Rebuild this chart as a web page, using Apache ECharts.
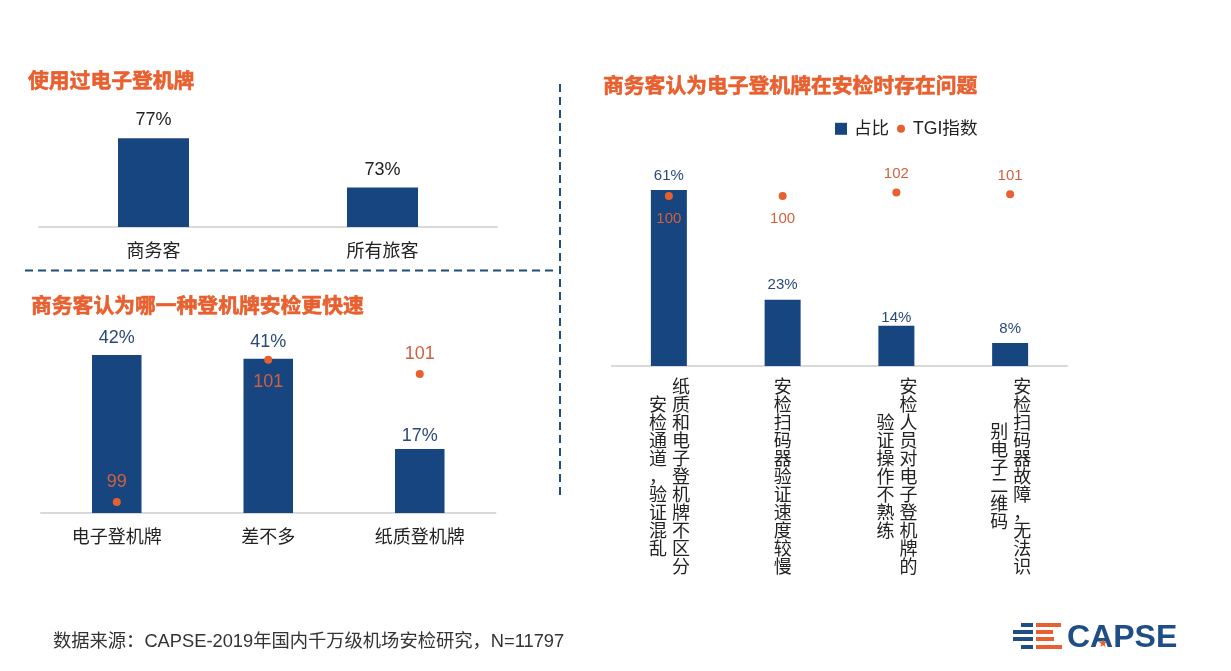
<!DOCTYPE html>
<html>
<head>
<meta charset="utf-8">
<title>CAPSE</title>
<script src="https://cdn.jsdelivr.net/npm/echarts@6/dist/echarts.min.js"></script>
<style>
html,body{margin:0;padding:0;background:#fff;}
#main{width:1231px;height:671px;}
</style>
</head>
<body>
<div id="main"></div>
<script>
'use strict';

var usedCategories = ['商务客', '所有旅客'];
var usedValues = [77, 73];

var speedCategories = ['电子登机牌', '差不多', '纸质登机牌'];
var speedValues = [42, 41, 17];
var speedLabelGap = [8, 8, 4];
var speedTgi = [99, 101, 100.8];
var speedTgiSide = ['top', 'bottom', 'top'];

// 每个标签是竖排的，第一列在右
var issueCategories = ['纸质和电子登机牌不区分安检通道，验证混乱', '安检扫码器验证速度较慢', '安检人员对电子登机牌的验证操作不熟练', '安检扫码器故障，无法识别电子二维码'];
var issueColumns = [
    ['纸质和电子登机牌不区分', '安检通道，验证混乱'],
    ['安检扫码器验证速度较慢'],
    ['安检人员对电子登机牌的', '验证操作不熟练'],
    ['安检扫码器故障，无法识', '别电子二维码']
];
var issueValues = [61, 23, 14, 8];
var issueLabelGap = [7, 7, 0, 7];
var issueTgi = [100, 100, 102, 101];
var issueTgiSide = ['bottom', 'bottom', 'top', 'top'];

var titles = ['使用过电子登机牌', '商务客认为哪一种登机牌安检更快速', '商务客认为电子登机牌在安检时存在问题'];
var sourceNote = '数据来源：CAPSE-2019年国内千万级机场安检研究，N=11797';

var FONT = '"Liberation Sans","Noto Sans CJK SC",sans-serif';
var BLUE = '#17457f';
var ORANGE = '#e8602f';
var TGI_TEXT = '#d2603f';
var VALUE_TEXT = '#2b4a78';
var DASH = '#1f4e79';

function titleItem(text, left, top) {
    return {
        text: text, left: left, top: top, padding: 0,
        textStyle: {fontFamily: FONT, fontSize: 20.8, fontWeight: 'bold', color: ORANGE, textBorderColor: ORANGE, textBorderWidth: 0.6}
    };
}

function xAxisItem(index, data, showLabel) {
    return {
        type: 'category', gridIndex: index, data: data,
        axisTick: {show: false},
        axisLine: {lineStyle: {color: '#d9d9d9', width: 2}},
        axisLabel: {show: showLabel, fontFamily: FONT, fontSize: 18, color: '#222', margin: 16, interval: 0}
    };
}

function yAxisItem(index, min, max) {
    return {type: 'value', gridIndex: index, min: min, max: max, show: false, splitLine: {show: false}};
}

function barItem(name, index, yIndex, values, gaps, width, fontSize, color) {
    return {
        name: name, type: 'bar', xAxisIndex: index, yAxisIndex: yIndex, barWidth: width,
        itemStyle: {color: BLUE},
        data: values.map(function(v, i) {
            return {
                value: v,
                label: {show: true, position: 'top', distance: gaps[i], fontFamily: FONT, fontSize: fontSize, color: color, formatter: '{c}%'}
            };
        })
    };
}

function tgiItem(name, index, yIndex, values, sides, fontSize, gapTop, gapBottom) {
    return {
        name: name, type: 'scatter', xAxisIndex: index, yAxisIndex: yIndex, symbol: 'circle', symbolSize: 8, z: 5,
        itemStyle: {color: ORANGE, opacity: 1},
        data: values.map(function(v, i) {
            return {
                value: v,
                label: {
                    show: true, position: sides[i], distance: sides[i] === 'top' ? gapTop : gapBottom,
                    fontFamily: FONT, fontSize: fontSize, color: TGI_TEXT,
                    formatter: function(p) { return Math.round(p.value); }
                }
            };
        })
    };
}

function renderIssueLabel(params, api) {
    var i = api.value(0);
    var base = api.coord([i, 0]);
    var cols = issueColumns[i];
    var children = cols.map(function(col, c) {
        var dx = cols.length > 1 ? (c === 0 ? 12 : -11) : 0;
        return {
            type: 'text', x: base[0] + dx, y: base[1] + 112,
            style: {
                text: col.split('').join('\n'), align: 'center', verticalAlign: 'middle',
                fontFamily: FONT, fontSize: 18, lineHeight: 18, fill: '#222'
            }
        };
    });
    return {type: 'group', children: children};
}

function logoGraphics() {
    var rows = [
        [1021, 1033, 1036, 1061, 625], [1013, 1033, 1036, 1053, 632],
        [1013, 1033, 1036, 1054, 639], [1021, 1033, 1036, 1062, 647]
    ];
    var items = [];
    rows.forEach(function(r) {
        items.push({type: 'rect', shape: {x: r[0], y: r[4] - 2, width: r[1] - r[0], height: 4}, style: {fill: '#1f4e86'}});
        items.push({type: 'rect', shape: {x: r[2], y: r[4] - 2, width: r[3] - r[2], height: 4}, style: {fill: ORANGE}});
    });
    items.push({type: 'text', x: 1067, y: 638, style: {text: 'CAPSE', fontFamily: FONT, fontSize: 32, fontWeight: 'bold', fill: '#1f4e86', verticalAlign: 'middle'}});
    items.push({type: 'polygon', shape: {points: [[1103, 639], [1104, 642], [1107, 642], [1104.7, 644], [1105.6, 647], [1103, 645.2], [1100.4, 647], [1101.3, 644], [1099, 642], [1102, 642]]}, style: {fill: ORANGE}});
    return items;
}

function dashLine(x1, y1, x2, y2) {
    return {type: 'line', shape: {x1: x1, y1: y1, x2: x2, y2: y2}, style: {stroke: DASH, lineWidth: 2, lineDash: [8, 5]}};
}

var chart = echarts.init(document.getElementById('main'));
chart.setOption({
    backgroundColor: '#fff',
    animation: false,
    title: [
        titleItem(titles[0], 28, 72),
        titleItem(titles[1], 31, 297),
        titleItem(titles[2], 603, 77),
        {text: sourceNote, left: 53, top: 633, padding: 0, textStyle: {fontFamily: FONT, fontSize: 18.3, fontWeight: 'normal', color: '#333'}}
    ],
    legend: [
        {data: [{name: '占比', icon: 'rect'}], left: 830, top: 115, itemWidth: 12, itemHeight: 12, itemGap: 0, textStyle: {fontFamily: FONT, fontSize: 17.6, color: '#222', padding: [0, 0, 0, 2]}},
        {data: [{name: 'TGI指数', icon: 'circle'}], left: 892, top: 115, itemWidth: 8, itemHeight: 8, itemGap: 0, textStyle: {fontFamily: FONT, fontSize: 17.6, color: '#222', padding: [0, 0, 0, 3]}}
    ],
    grid: [
        {left: 39, top: 100, width: 458, height: 127},
        {left: 41, top: 330, width: 454.5, height: 183},
        {left: 612, top: 150, width: 455, height: 216}
    ],
    xAxis: [
        xAxisItem(0, usedCategories, true),
        xAxisItem(1, speedCategories, true),
        xAxisItem(2, issueCategories, false)
    ],
    yAxis: [
        yAxisItem(0, 69.8, 80.1),
        yAxisItem(1, 0, 48.67),
        yAxisItem(1, 98.845, 101.42),
        yAxisItem(2, 0, 74.9),
        yAxisItem(2, 0, 127)
    ],
    series: [
        barItem('使用过', 0, 0, usedValues, [9, 9], 71, 18, '#222'),
        barItem('更快速', 1, 1, speedValues, speedLabelGap, 49.5, 18, VALUE_TEXT),
        tgiItem('更快速TGI', 1, 2, speedTgi, speedTgiSide, 18, 7, 9),
        barItem('占比', 2, 3, issueValues, issueLabelGap, 36, 15, VALUE_TEXT),
        tgiItem('TGI指数', 2, 4, issueTgi, issueTgiSide, 15, 7, 11),
        {
            name: '问题标签', type: 'custom', xAxisIndex: 2, yAxisIndex: 3, silent: true,
            renderItem: renderIssueLabel, encode: {x: 0, y: 1},
            data: issueCategories.map(function(c, i) { return [i, 0]; })
        }
    ],
    graphic: [
        dashLine(25, 270.5, 553, 270.5),
        dashLine(560, 84, 560, 497)
    ].concat(logoGraphics())
});
</script>
</body>
</html>
